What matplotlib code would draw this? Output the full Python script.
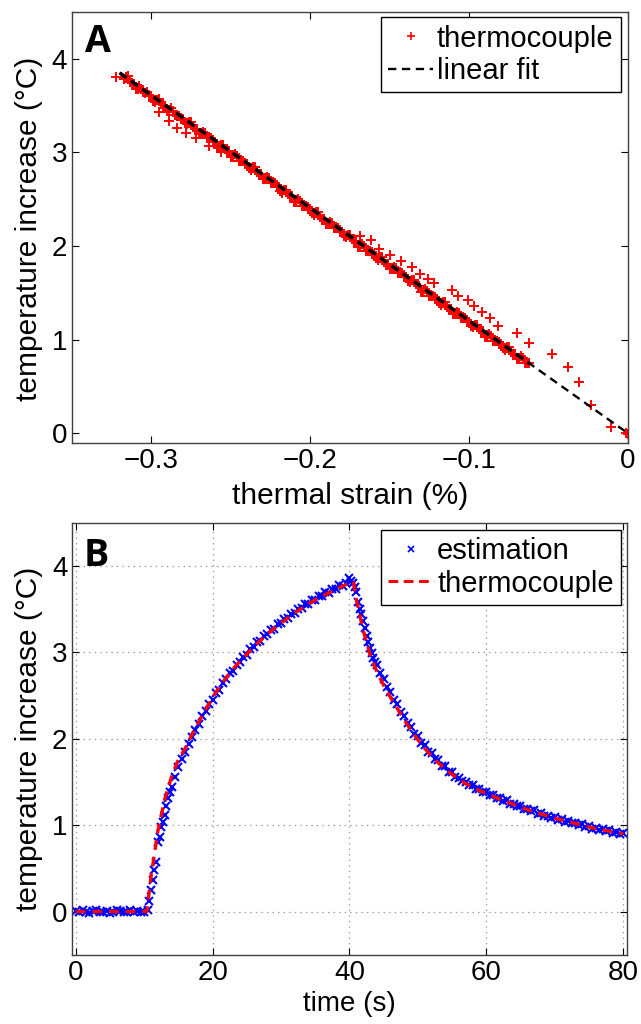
import numpy as np
import matplotlib
matplotlib.use('Agg')
from matplotlib import pyplot as plt
from matplotlib.lines import Line2D

plt.rcParams['font.family'] = ['Liberation Sans', 'DejaVu Sans']
plt.rcParams['lines.scale_dashes'] = False

#Panel A data: thermocouple temperature vs thermal strain
band_strain = [-0.3226, -0.3175, -0.315, -0.3125, -0.31, -0.3075, -0.305, -0.3025, -0.30,
               -0.2975, -0.295, -0.2925, -0.29, -0.2875, -0.285, -0.2825, -0.28,
               -0.2775, -0.275, -0.2725, -0.27, -0.2675, -0.265, -0.2625, -0.26,
               -0.2575, -0.255, -0.2525, -0.25, -0.2475, -0.245, -0.2425, -0.24,
               -0.2375, -0.235, -0.2325, -0.23, -0.2275, -0.225, -0.2225, -0.22,
               -0.2175, -0.215, -0.2125, -0.21, -0.2075, -0.205, -0.2025, -0.20,
               -0.1975, -0.195, -0.1925, -0.19, -0.1875, -0.185, -0.1825, -0.18,
               -0.1775, -0.175, -0.1725, -0.17, -0.1675, -0.165, -0.1625, -0.16,
               -0.1575, -0.155, -0.1525, -0.15, -0.1475, -0.145, -0.1425, -0.14,
               -0.1375, -0.135, -0.1325, -0.13, -0.1275, -0.125, -0.1225, -0.12,
               -0.1175, -0.115, -0.1125, -0.11, -0.1075, -0.105, -0.1025, -0.10,
               -0.0975, -0.095, -0.0925, -0.09, -0.0875, -0.085, -0.0825, -0.08,
               -0.0775, -0.075, -0.0725, -0.07, -0.0675, -0.065, -0.0625]
band_temp = [3.80, 3.78, 3.81, 3.74, 3.68, 3.71, 3.64, 3.64, 3.60,
             3.54, 3.57, 3.50, 3.44, 3.47, 3.40, 3.39, 3.35,
             3.30, 3.32, 3.25, 3.19, 3.22, 3.15, 3.15, 3.11,
             3.05, 3.08, 3.01, 2.95, 2.98, 2.91, 2.91, 2.87,
             2.81, 2.84, 2.77, 2.71, 2.74, 2.67, 2.67, 2.63,
             2.57, 2.60, 2.53, 2.47, 2.50, 2.43, 2.43, 2.39,
             2.33, 2.36, 2.29, 2.23, 2.26, 2.19, 2.19, 2.15,
             2.09, 2.12, 2.05, 1.99, 2.02, 1.95, 1.95, 1.91,
             1.85, 1.88, 1.81, 1.75, 1.78, 1.71, 1.71, 1.67,
             1.61, 1.64, 1.57, 1.51, 1.54, 1.47, 1.47, 1.43,
             1.37, 1.40, 1.33, 1.27, 1.30, 1.23, 1.23, 1.19,
             1.13, 1.16, 1.09, 1.03, 1.06, 0.99, 0.99, 0.95,
             0.89, 0.92, 0.85, 0.79, 0.82, 0.75, 0.75]
band2_strain = [-0.06375, -0.06625, -0.06875, -0.07125, -0.07375, -0.07625, -0.07875, -0.08125,
                -0.08375, -0.08625, -0.08875, -0.09125, -0.09375, -0.09625, -0.09875, -0.10125,
                -0.10375, -0.10625, -0.10875, -0.11125, -0.11375, -0.11625, -0.11875, -0.12125,
                -0.12375, -0.12625, -0.12875, -0.13125, -0.13375, -0.13625, -0.13875, -0.14125,
                -0.14375, -0.14625, -0.14875, -0.15125, -0.15375, -0.15625, -0.15875, -0.16125,
                -0.16375, -0.16625, -0.16875, -0.17125, -0.17375, -0.17625, -0.17875, -0.18125,
                -0.18375, -0.18625, -0.18875, -0.19125, -0.19375, -0.19625, -0.19875, -0.20125,
                -0.20375, -0.20625, -0.20875, -0.21125, -0.21375, -0.21625, -0.21875, -0.22125,
                -0.22375, -0.22625, -0.22875, -0.23125, -0.23375, -0.23625, -0.23875, -0.24125,
                -0.24375, -0.24625, -0.24875, -0.25125, -0.25375, -0.25625, -0.25875, -0.26125,
                -0.26375, -0.26625, -0.26875, -0.27125, -0.27375, -0.27625, -0.27875, -0.28125,
                -0.28375, -0.28625, -0.28875, -0.29125, -0.29375, -0.29625, -0.29875, -0.30125,
                -0.30375, -0.30625, -0.30875, -0.31125, -0.31375, -0.31625]
band2_temp = [0.75, 0.80, 0.79, 0.85, 0.87, 0.92, 0.91, 0.97, 0.99, 1.04, 1.03, 1.09,
              1.11, 1.16, 1.15, 1.21, 1.23, 1.28, 1.27, 1.33, 1.35, 1.40, 1.39, 1.45,
              1.47, 1.52, 1.51, 1.57, 1.59, 1.64, 1.63, 1.69, 1.71, 1.76, 1.75, 1.81,
              1.83, 1.88, 1.87, 1.93, 1.95, 2.00, 1.99, 2.05, 2.07, 2.12, 2.11, 2.17,
              2.19, 2.24, 2.23, 2.29, 2.31, 2.36, 2.35, 2.41, 2.43, 2.48, 2.47, 2.53,
              2.55, 2.60, 2.59, 2.65, 2.67, 2.72, 2.71, 2.77, 2.79, 2.84, 2.83, 2.89,
              2.91, 2.96, 2.95, 3.01, 3.03, 3.08, 3.07, 3.13, 3.15, 3.20, 3.19, 3.25,
              3.27, 3.32, 3.31, 3.37, 3.39, 3.44, 3.43, 3.49, 3.51, 3.56, 3.55, 3.61,
              3.63, 3.68, 3.67, 3.73, 3.75, 3.80]
cool_strain = [-0.295, -0.289, -0.284, -0.278, -0.272, -0.264, -0.258, -0.256]
cool_temp = [3.43, 3.33, 3.26, 3.21, 3.15, 3.07, 3.04, 3.00]
heat_strain = [-0.169, -0.162, -0.157, -0.150, -0.143, -0.136, -0.131, -0.126, -0.122,
               -0.111, -0.107, -0.101, -0.097, -0.092, -0.087, -0.082, -0.070, -0.062,
               -0.048, -0.038, -0.031, -0.023, -0.011, -0.001, 0.0]
heat_temp = [2.11, 2.06, 1.97, 1.90, 1.84, 1.77, 1.70, 1.65, 1.60,
             1.53, 1.47, 1.42, 1.36, 1.29, 1.23, 1.15, 1.07, 0.96,
             0.85, 0.71, 0.55, 0.30, 0.07, 0.00, -0.01]
fit_strain = [-0.320, 0.0]
fit_temp = [3.847, 0.0]
fit_data_strain = [-0.320, -0.0616]
fit_data_temp = [3.847, 0.740]

#Panel B data: temperature vs time
tc_time = [0, 10.4, 11, 12, 13, 14, 15, 16, 17, 18, 19, 20, 21, 22, 23, 24, 25, 26, 27, 28,
           29, 30, 31, 32, 33, 34, 35, 36, 37, 38, 39, 40, 40.6, 41, 42, 43, 44, 45, 46, 47,
           48, 49, 50, 51, 52, 53, 54, 55, 56, 57, 58, 59, 60, 62, 64, 66, 68, 70, 72, 74,
           76, 78, 80]
tc_temp = [0, 0, 0.40, 0.93, 1.30, 1.56, 1.76, 1.89, 2.05, 2.20, 2.34, 2.48, 2.60, 2.71, 2.81,
           2.90, 2.98, 3.06, 3.14, 3.21, 3.28, 3.34, 3.40, 3.46, 3.51, 3.56, 3.61, 3.65, 3.69,
           3.73, 3.77, 3.80, 3.82, 3.62, 3.26, 2.98, 2.78, 2.62, 2.48, 2.35, 2.22, 2.10, 1.99,
           1.89, 1.80, 1.72, 1.65, 1.59, 1.53, 1.48, 1.44, 1.40, 1.37, 1.30, 1.24, 1.18, 1.13,
           1.08, 1.04, 1.00, 0.96, 0.93, 0.90]

est_time = [0, 0.5, 1, 1.5, 2, 2.5, 3, 3.5, 4, 4.5, 5, 5.5, 6, 6.5, 7, 7.5, 8, 8.5, 9, 9.5, 10,
            10.5, 10.75, 11, 11.25, 11.5, 11.75, 12, 12.25, 12.5, 12.75, 13, 13.25, 13.5, 13.75, 14,
            14.5, 15, 15.5, 16, 16.5, 17, 17.5, 18, 18.5, 19, 19.5, 20, 20.5, 21, 21.5, 22,
            22.5, 23, 23.5, 24, 24.5, 25, 25.5, 26, 26.5, 27, 27.5, 28, 28.5, 29, 29.5, 30,
            30.5, 31, 31.5, 32, 32.5, 33, 33.5, 34, 34.5, 35, 35.5, 36, 36.5, 37, 37.5, 38,
            38.5, 39, 39.5,
            40, 40.25, 40.5, 40.75, 41, 41.25, 41.5, 41.75, 42, 42.25, 42.5, 42.75, 43, 43.25,
            43.5, 43.75, 44,
            44.5, 45, 45.5, 46, 46.5, 47, 47.5, 48, 48.5, 49, 49.5, 50, 50.5, 51, 51.5, 52,
            52.5, 53, 53.5, 54, 54.5, 55, 55.5, 56, 56.5, 57, 57.5, 58, 58.5, 59, 59.5, 60,
            60.5, 61, 61.5, 62, 62.5, 63, 63.5, 64, 64.5, 65, 65.5, 66, 66.5, 67, 67.5, 68,
            68.5, 69, 69.5, 70, 70.5, 71, 71.5, 72, 72.5, 73, 73.5, 74, 74.5, 75, 75.5, 76,
            76.5, 77, 77.5, 78, 78.5, 79, 79.5, 80]
est_temp = [0.01, -0.01, 0.02, 0.00, -0.02, 0.01, 0.02, -0.01, 0.00, 0.01, -0.02, 0.00, 0.02,
            0.01, -0.01, 0.00, 0.02, -0.01, 0.01, 0.00, -0.01,
            0.02, 0.12, 0.25, 0.37, 0.48, 0.57, 0.80, 0.86, 0.98, 1.04, 1.12, 1.22, 1.31, 1.38, 1.44,
            1.56, 1.67, 1.77, 1.85, 1.94, 2.02, 2.10, 2.17, 2.26, 2.32, 2.40, 2.45, 2.53, 2.57,
            2.65, 2.69, 2.76, 2.79, 2.86, 2.89, 2.95, 2.97, 3.04, 3.06, 3.12, 3.13, 3.19, 3.21,
            3.26, 3.27, 3.33, 3.34, 3.39, 3.40, 3.44, 3.46, 3.50, 3.51, 3.56, 3.56, 3.61, 3.61,
            3.65, 3.65, 3.70, 3.69, 3.74, 3.73, 3.78, 3.77, 3.81,
            3.86, 3.83, 3.80, 3.76, 3.70, 3.58, 3.50, 3.44, 3.36, 3.28, 3.19, 3.12, 3.05, 2.99,
            2.94, 2.89, 2.85,
            2.76, 2.69, 2.60, 2.54, 2.45, 2.40, 2.31, 2.27, 2.18, 2.14, 2.06, 2.03, 1.95, 1.93,
            1.85, 1.84, 1.77, 1.75, 1.69, 1.68, 1.62, 1.61, 1.56, 1.55, 1.51, 1.50, 1.46, 1.46,
            1.42, 1.42, 1.38, 1.38, 1.35, 1.35, 1.31, 1.32, 1.28, 1.29, 1.25, 1.25, 1.22, 1.22,
            1.19, 1.19, 1.16, 1.17, 1.13, 1.14, 1.11, 1.11, 1.08, 1.09, 1.06, 1.07, 1.04, 1.05,
            1.02, 1.03, 1.00, 1.01, 0.98, 0.99, 0.96, 0.97, 0.94, 0.95, 0.93, 0.94, 0.91, 0.92,
            0.90, 0.91]

TICK_FS = 20
LABEL_FS = 21.5
LEG_FS = 21


def style_axes(ax, xpad):
    ax.tick_params(direction='in', top=True, right=True, length=5, width=0.8,
                   colors='black', labelsize=TICK_FS)
    ax.tick_params(axis='x', pad=xpad)
    ax.tick_params(axis='y', pad=3.5)
    for sp in ax.spines.values():
        sp.set_color('#404040')
        sp.set_linewidth(1.0)


fig = plt.figure(figsize=(6.41, 10.24), dpi=100)

#Panel A
axA = fig.add_axes([0.1123, 0.5677, 0.8674, 0.4209])
a_strain = band_strain + band2_strain + cool_strain + heat_strain
a_temp = band_temp + band2_temp + cool_temp + heat_temp
axA.plot(a_strain, a_temp, linestyle='none', marker='+', color='red',
         markersize=7, markeredgewidth=1.4, zorder=2)
axA.plot(fit_strain, fit_temp, color='black', linewidth=1.7, dashes=(6, 4), zorder=3)
axA.plot(fit_data_strain, fit_data_temp, color='black', linewidth=2.5, dashes=(6, 4), zorder=3)
axA.set_xlim(-0.35, 0)
axA.set_ylim(-0.1, 4.5)
axA.set_xticks([-0.3, -0.2, -0.1, 0])
axA.set_xticklabels(['\u22120.3', '\u22120.2', '\u22120.1', '0'])
axA.set_yticks([0, 1, 2, 3, 4])
style_axes(axA, 4)
axA.set_xlabel('thermal strain (%)', fontsize=LABEL_FS)
axA.set_ylabel('temperature increase (\u00b0C)', fontsize=LABEL_FS)
axA.xaxis.set_label_coords(0.5, -0.092)
axA.yaxis.set_label_coords(-0.052, 0.497)
hA = [Line2D([], [], linestyle='none', marker='+', color='red', markersize=6, markeredgewidth=1.2),
      Line2D([], [], color='black', linewidth=1.7, dashes=(6, 4))]
legA = axA.legend(hA, ['thermocouple', 'linear fit'], loc='upper right',
                  bbox_to_anchor=(0.987, 0.987), borderaxespad=0, fontsize=LEG_FS,
                  fancybox=False, framealpha=1, edgecolor='black', borderpad=0.25,
                  handlelength=1.55, handletextpad=0.12, labelspacing=0.15)
legA.get_frame().set_linewidth(1.0)

#Panel B
axB = fig.add_axes([0.1128, 0.0677, 0.8646, 0.4216])
axB.grid(True, linestyle=(0, (1, 3)), color='#999999', linewidth=0.9)
axB.set_axisbelow(True)
axB.plot(est_time, est_temp, linestyle='none', marker='x', color='blue',
         markersize=6, markeredgewidth=1.5, zorder=2)
axB.plot(tc_time, tc_temp, color='red', linewidth=2.4, dashes=(7, 5), zorder=3)
axB.set_xlim(-0.5, 80.5)
axB.set_ylim(-0.5, 4.5)
axB.set_xticks([0, 20, 40, 60, 80])
axB.set_yticks([0, 1, 2, 3, 4])
style_axes(axB, 3.6)
axB.set_xlabel('time (s)', fontsize=20)
axB.set_ylabel('temperature increase (\u00b0C)', fontsize=LABEL_FS)
axB.xaxis.set_label_coords(0.5, -0.085)
axB.yaxis.set_label_coords(-0.052, 0.5)
hB = [Line2D([], [], linestyle='none', marker='x', color='blue', markersize=5, markeredgewidth=1.2),
      Line2D([], [], color='red', linewidth=2.2, dashes=(7, 4))]
legB = axB.legend(hB, ['estimation', 'thermocouple'], loc='upper right',
                  bbox_to_anchor=(0.990, 0.984), borderaxespad=0, fontsize=LEG_FS,
                  fancybox=False, framealpha=1, edgecolor='black', borderpad=0.25,
                  handlelength=1.55, handletextpad=0.12, labelspacing=0.15)
legB.get_frame().set_linewidth(1.0)

#Panel letters
fig.text(85 / 641, 1 - 52 / 1024, 'A', fontsize=27, fontweight='bold',
         family=['Open Sans', 'DejaVu Sans'], va='baseline', ha='left')
fig.text(84 / 641, 1 - 566 / 1024, 'B', fontsize=27, fontweight='bold',
         family=['Open Sans', 'DejaVu Sans'], va='baseline', ha='left')

fig.savefig('out.png', dpi=100)
